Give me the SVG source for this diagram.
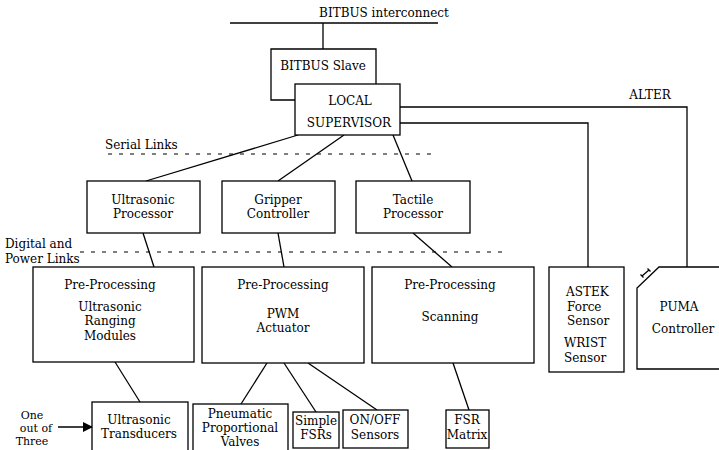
<svg xmlns="http://www.w3.org/2000/svg" width="719" height="450" viewBox="0 0 719 450">
<defs>
<style>
.b{fill:#fff;stroke:#000;stroke-width:1.3}
.l{fill:none;stroke:#000;stroke-width:1.3}
.d{fill:none;stroke:#000;stroke-width:1.2;stroke-dasharray:4 7}
text{font-family:"DejaVu Serif","Liberation Serif",serif;font-size:12px;fill:#000}
.c{text-anchor:middle}
.s{font-size:11px}
</style>
<marker id="ah" markerWidth="10" markerHeight="10" refX="9" refY="5" orient="auto" markerUnits="userSpaceOnUse">
<path d="M0,0 L10,5 L0,10 Z" fill="#000"/>
</marker>
</defs>
<rect width="719" height="450" fill="#fff"/>

<g id="connectors">
<line class="l" x1="230" y1="23" x2="438" y2="23"/>
<line class="l" x1="323" y1="23" x2="323" y2="49"/>
<path class="l" d="M400,107 H687 V267"/>
<path class="l" d="M400,123 H588 V267"/>
<line class="d" x1="108" y1="154" x2="437" y2="154"/>
<line class="d" x1="80" y1="252" x2="503" y2="252"/>
<line class="l" x1="298" y1="135" x2="146" y2="181"/>
<line class="l" x1="344" y1="135" x2="278" y2="181"/>
<line class="l" x1="393" y1="135" x2="412" y2="181"/>
<line class="l" x1="143" y1="233" x2="154" y2="267"/>
<line class="l" x1="278" y1="233" x2="284" y2="267"/>
<line class="l" x1="413" y1="233" x2="452" y2="267"/>
<line class="l" x1="115" y1="362" x2="140" y2="402"/>
<line class="l" x1="267" y1="363" x2="241" y2="404"/>
<line class="l" x1="284" y1="363" x2="316" y2="412"/>
<line class="l" x1="308" y1="363" x2="377" y2="410"/>
<line class="l" x1="453" y1="363" x2="469" y2="410"/>
<line class="l" x1="58" y1="427" x2="92" y2="427" marker-end="url(#ah)"/>
</g>

<g id="labels">
<text class="c" x="384" y="17">BITBUS interconnect</text>
<text x="650" y="99" class="c">ALTER</text>
<text x="105" y="149">Serial Links</text>
<text x="5" y="248">Digital and</text>
<text x="5" y="263">Power Links</text>
<text class="c s" x="32" y="419">One</text>
<text class="c s" x="36" y="432">out of</text>
<text class="c s" x="32" y="445">Three</text>
</g>

<g id="bitbus-slave">
<path class="l" d="M376,84 V49 H271 V100 H295"/>
<text class="c" x="323" y="70">BITBUS Slave</text>
</g>

<g id="local-supervisor">
<rect class="b" x="295" y="84" width="105" height="51"/>
<text class="c" x="350" y="105">LOCAL</text>
<text class="c" x="349" y="127">SUPERVISOR</text>
</g>

<g id="ultrasonic-processor">
<rect class="b" x="87" y="181" width="113" height="52"/>
<text class="c" x="143" y="204">Ultrasonic</text>
<text class="c" x="143" y="218">Processor</text>
</g>

<g id="gripper-controller">
<rect class="b" x="222" y="181" width="113" height="52"/>
<text class="c" x="278" y="204">Gripper</text>
<text class="c" x="278" y="218">Controller</text>
</g>

<g id="tactile-processor">
<rect class="b" x="356" y="181" width="114" height="52"/>
<text class="c" x="413" y="204">Tactile</text>
<text class="c" x="413" y="218">Processor</text>
</g>

<g id="preproc-ultrasonic">
<rect class="b" x="33" y="267" width="161" height="95"/>
<text class="c" x="110" y="289">Pre-Processing</text>
<text class="c" x="110" y="311">Ultrasonic</text>
<text class="c" x="110" y="325">Ranging</text>
<text class="c" x="110" y="340">Modules</text>
</g>

<g id="preproc-pwm">
<rect class="b" x="202" y="267" width="162" height="96"/>
<text class="c" x="283" y="289">Pre-Processing</text>
<text class="c" x="283" y="318">PWM</text>
<text class="c" x="283" y="332">Actuator</text>
</g>

<g id="preproc-scanning">
<rect class="b" x="372" y="267" width="162" height="96"/>
<text class="c" x="450" y="289">Pre-Processing</text>
<text class="c" x="450" y="321">Scanning</text>
</g>

<g id="astek-sensor">
<rect class="b" x="549" y="267" width="75" height="105"/>
<text x="566" y="296">ASTEK</text>
<text x="567" y="311">Force</text>
<text x="567" y="325">Sensor</text>
<text x="564" y="347">WRIST</text>
<text x="564" y="362">Sensor</text>
</g>

<g id="puma-controller">
<path class="b" d="M722,267 H659 L637,288 V369 H722"/>
<path class="l" d="M642,276 L649,270 M640.5,274.5 L643.5,277.5 M647.5,268.5 L650.5,271.5" stroke-width="1"/>
<text class="c" x="679" y="311">PUMA</text>
<text class="c" x="683" y="333">Controller</text>
</g>

<g id="ultrasonic-transducers">
<rect class="b" x="92" y="402" width="96" height="60"/>
<text class="c" x="139" y="424">Ultrasonic</text>
<text class="c" x="139" y="438">Transducers</text>
</g>

<g id="pneumatic-valves">
<rect class="b" x="193" y="404" width="95" height="60"/>
<text class="c" x="240" y="418">Pneumatic</text>
<text class="c" x="240" y="432">Proportional</text>
<text class="c" x="240" y="446">Valves</text>
</g>

<g id="simple-fsrs">
<rect class="b" x="293" y="412" width="46" height="36"/>
<text class="c" x="316" y="425" textLength="42" lengthAdjust="spacingAndGlyphs">Simple</text>
<text class="c" x="316" y="439">FSRs</text>
</g>

<g id="onoff-sensors">
<rect class="b" x="343" y="410" width="65" height="38"/>
<text class="c" x="375" y="424">ON/OFF</text>
<text class="c" x="375" y="439">Sensors</text>
</g>

<g id="fsr-matrix">
<rect class="b" x="446" y="410" width="43" height="38"/>
<text class="c" x="467" y="424">FSR</text>
<text class="c" x="467" y="439">Matrix</text>
</g>
</svg>
